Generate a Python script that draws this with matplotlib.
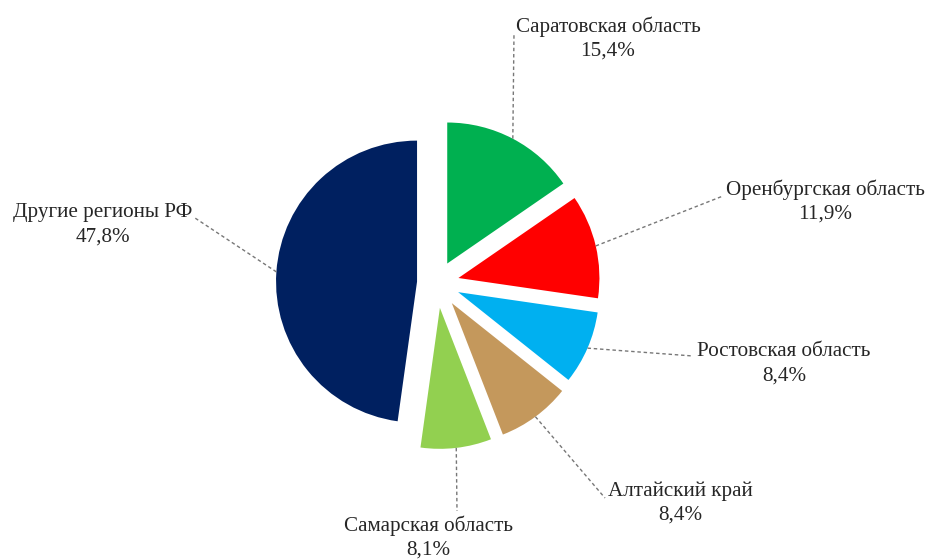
import numpy as np
import matplotlib
matplotlib.use("Agg")
import matplotlib.pyplot as plt

plt.rcParams['font.family'] = ['Liberation Serif', 'DejaVu Serif']

# data, clockwise from 12 o'clock
regions = ["Саратовская область", "Оренбургская область", "Ростовская область",
           "Алтайский край", "Самарская область", "Другие регионы РФ"]
shares = [15.4, 11.9, 8.4, 8.4, 8.1, 47.8]
colors = ["#00B050", "#FF0000", "#00B0F0", "#C4985C", "#92D050", "#002060"]
explode = [22, 22, 23, 25, 25, 20]  # offsets in px (pie uses data units)

# label layout (pixel coords, y from top): text centre x, name line y, leader end
label_x = [608, 825, 784, 680, 428, 103]
label_y = [27, 190, 352, 491, 526, 213]
leader_end = [(514, 33), (723, 196), (693, 356), (605, 498), (457, 511), (195, 218)]

W, H = 930, 560
fig = plt.figure(figsize=(W / 100, H / 100), dpi=100)
ax = fig.add_axes([0, 0, 1, 1])

cx, cy, r = 437, 283, 141
wedges, _ = ax.pie(shares, colors=colors, explode=explode, startangle=90,
                   counterclock=False, center=(cx, H - cy), radius=r,
                   wedgeprops=dict(linewidth=0))
ax.set_xlim(0, W)
ax.set_ylim(0, H)
ax.set_aspect('equal')
ax.axis('off')

txt_color = "#262626"
fs = 15.2
for i, w in enumerate(wedges):
    mid = np.deg2rad((w.theta1 + w.theta2) / 2)
    x0 = w.center[0] + w.r * np.cos(mid)
    y0 = w.center[1] + w.r * np.sin(mid)
    ex, ey = leader_end[i]
    ax.plot([x0, ex], [y0, H - ey], color="#777777", lw=1.0,
            linestyle=(0, (2.5, 2)), zorder=1)
    pct = f"{shares[i]:.1f}".replace('.', ',') + "%"
    ax.text(label_x[i], H - label_y[i], regions[i], ha='center', va='center',
            fontsize=fs, color=txt_color)
    ax.text(label_x[i], H - label_y[i] - 24.5, pct, ha='center', va='center',
            fontsize=fs, color=txt_color)

fig.savefig("out.png", dpi=100, facecolor="white")
